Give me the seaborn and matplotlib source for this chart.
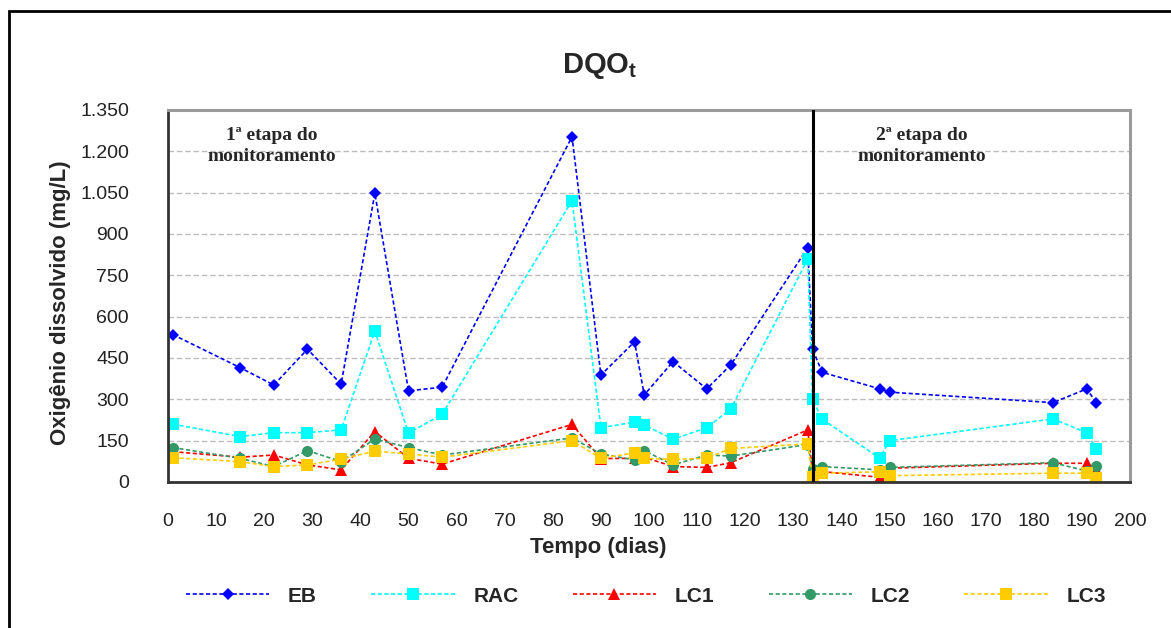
import matplotlib
matplotlib.use("Agg")
import matplotlib.pyplot as plt
from matplotlib.patches import Rectangle
from matplotlib.ticker import FuncFormatter, MultipleLocator
import seaborn as sns
import pandas as pd

# ---------------- data ----------------
days = [1, 15, 22, 29, 36, 43, 50, 57, 84, 90, 97, 99, 105, 112, 117,
        133, 134, 136, 148, 150, 184, 191, 193]
EB = [535, 415, 352, 482, 355, 1048, 331, 344, 1253, 388, 509, 316, 437, 338, 425,
      850, 482, 398, 338, 326, 288, 338, 288]
RAC = [210, 165, 179, 179, 189, 548, 177, 246, 1021, 197, 217, 207, 155, 197, 265,
       809, 300, 228, 86, 150, 229, 179, 119]
LC1 = [110, 90, 98, 62, 44, 183, 86, 65, 209, 85, 86, 90, 56, 53, 70,
       189, 35, 38, 17, 50, 68, 68, 46]
LC2 = [125, 86, 56, 114, 74, 156, 125, 98, 160, 102, 80, 114, 62, 98, 94,
       136, 46, 56, 44, 53, 70, 40, 58]
LC3 = [88, 74, 56, 62, 83, 112, 102, 90, 150, 86, 106, 86, 82, 86, 122,
       138, 19, 32, 37, 23, 32, 32, 16]

series_names = ["EB", "RAC", "LC1", "LC2", "LC3"]
series_values = [EB, RAC, LC1, LC2, LC3]
series_colors = ["#0000FF", "#00FFFF", "#FF0000", "#339966", "#FFCC00"]
series_markers = ["D", "s", "^", "o", "s"]
series_msize = [6.5, 9, 8.5, 8, 9]

stage_split = 134
title_text = r"$\mathbf{DQO_t}$"
xlabel_text = "Tempo (dias)"
ylabel_text = "Oxigênio dissolvido (mg/L)"
stage1_text = "1ª etapa do\nmonitoramento"
stage2_text = "2ª etapa do\nmonitoramento"

# ---------------- style ----------------
sns.set_style("white")
plt.rcParams["font.family"] = ["Liberation Sans", "DejaVu Sans"]
plt.rcParams["mathtext.fontset"] = "custom"
plt.rcParams["mathtext.rm"] = "Liberation Sans"
plt.rcParams["mathtext.bf"] = "Liberation Sans:bold"

W, H = 1171, 628
fig = plt.figure(figsize=(W / 100, H / 100), dpi=100)
fig.patch.set_facecolor("white")
ax = fig.add_axes([168 / W, 1 - 482 / H, (1130 - 168) / W, (482 - 110) / H])

# outer frame
fig.patches.append(Rectangle((9 / W, -0.2), 1.2, 0.2 + (1 - 11 / H), transform=fig.transFigure,
                             fill=False, edgecolor="black", lw=2.0))

for name, vals, col, mk, ms in zip(series_names, series_values, series_colors,
                                   series_markers, series_msize):
    df = pd.DataFrame({"dia": days, "valor": vals})
    sns.lineplot(data=df, x="dia", y="valor", ax=ax, color=col, marker=mk,
                 markersize=ms, markeredgewidth=0, markeredgecolor=col,
                 linestyle=(0, (2.5, 1.5)), linewidth=1.2, label=name,
                 estimator=None, errorbar=None, sort=False)

ax.axvline(stage_split, color="black", lw=2.2, zorder=6)

ax.set_xlim(0, 200)
ax.set_ylim(0, 1350)
ax.xaxis.set_major_locator(MultipleLocator(10))
ax.yaxis.set_major_locator(MultipleLocator(150))
ax.yaxis.set_major_formatter(FuncFormatter(lambda v, p: f"{int(v):,}".replace(",", ".")))
ax.set_xlabel("")
ax.set_ylabel("")

ax.grid(axis="y", color="#BDBDBD", linestyle=(0, (4, 2)), lw=1.0)
ax.grid(axis="x", visible=False)
ax.set_axisbelow(True)

ax.tick_params(axis="both", which="major", direction="out", length=6, width=1.3,
               color="#333333", labelsize=14, labelcolor="#222222", pad=16)
ax.tick_params(axis="y", pad=22)
ax.tick_params(axis="x", pad=16)

for side in ["left", "bottom"]:
    ax.spines[side].set_color("#333333")
    ax.spines[side].set_linewidth(2.0)
for side in ["top", "right"]:
    ax.spines[side].set_color("#9A9A9A")
    ax.spines[side].set_linewidth(2.2)

# stage annotations
ax.text(21.6, 1219, stage1_text, ha="center", va="center", multialignment="center",
        fontsize=14, fontweight="bold", family=["Liberation Serif", "DejaVu Serif"],
        linespacing=1.25)
ax.text(156.7, 1219, stage2_text, ha="center", va="center", multialignment="center",
        fontsize=14, fontweight="bold", family=["Liberation Serif", "DejaVu Serif"],
        linespacing=1.25)

# title and axis labels
fig.text(600 / W, 1 - 66 / H, title_text, ha="center", va="center", fontsize=21)
fig.text(598 / W, 1 - 548 / H, xlabel_text, ha="center", va="center",
         fontsize=16, fontweight="bold")
fig.text(61 / W, 1 - 303 / H, ylabel_text, ha="center", va="center", rotation=90,
         fontsize=16, fontweight="bold")

handles, labels = ax.get_legend_handles_labels()
if ax.get_legend() is not None:
    ax.get_legend().remove()
fig.legend(handles, labels, loc="center", bbox_to_anchor=(646 / W, 1 - 596 / H), ncol=5,
           frameon=False, prop={"size": 15, "weight": "bold"}, handlelength=4.0,
           handletextpad=0.9, columnspacing=2.6, numpoints=1)

fig.savefig("out.png", dpi=100)
